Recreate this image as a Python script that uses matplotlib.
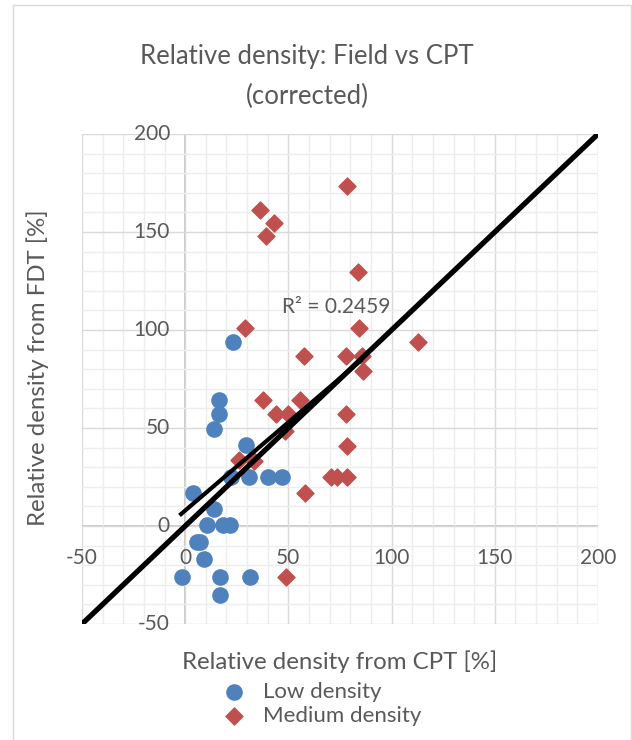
import numpy as np
import matplotlib
matplotlib.use("Agg")
import matplotlib.pyplot as plt
from matplotlib.lines import Line2D

plt.rcParams['font.family'] = ['Lato', 'DejaVu Sans']

# Low density points (CPT vs FDT)
low_x = [23, 16.5, 16.2, 14.1, 29.5, 22.2, 30.7, 40, 47, 3.6, 13.8,
         10.5, 18.3, 21.5, 5.7, 7.3, 9.2, -1.6, 17, 31.6, 17]
low_y = [94, 64.5, 57, 49.5, 41.5, 25, 25, 25, 25, 17, 8.5,
         0.5, 0.5, 0.5, -8, -8, -17, -26, -26, -26, -35]

# Medium density points
med_x = [78.6, 36.4, 42.9, 39.2, 83.5, 29.1, 84.1, 112.6, 57.8, 78, 85.8, 86.1, 37.7,
         55.8, 44.2, 49.7, 78, 48.5, 78.5, 26, 33.3, 70.4, 73.6, 78.5, 57.9, 48.9]
med_y = [173.5, 161, 154.5, 148, 129.5, 101, 101, 94, 86.5, 86.5, 86.5, 79, 64.5,
         64.5, 57, 57, 57, 48.5, 41, 33.5, 33, 25, 25, 25, 17, -26]

# 1:1 line and linear trendline
one_to_one = [-50, 200]
trend_slope = 0.90
trend_intercept = 7.9
trend_range = [-2, 85]
r2_label = "R² = 0.2459"

ticks = [-50, 0, 50, 100, 150, 200]
txt_col = '#595959'

fig = plt.figure(figsize=(6.32, 7.4), dpi=100)
ax = fig.add_axes([82/632, 1-624/740, (598-82)/632, (624-134)/740])

ax.set_xlim(-50, 200)
ax.set_ylim(-50, 200)
ax.set_xticks(ticks)
ax.set_yticks(ticks)
ax.set_xticks(np.arange(-50, 201, 10), minor=True)
ax.set_yticks(np.arange(-50, 201, 10), minor=True)
ax.grid(which='minor', color='#ededed', lw=1, zorder=0)
ax.grid(which='major', color='#d9d9d9', lw=1, zorder=0)
ax.tick_params(which='both', length=0, labelbottom=False, labelleft=False)
for s in ax.spines.values():
    s.set_visible(False)
ax.axhline(0, color='#bfbfbf', lw=1.2, zorder=1)
ax.axvline(0, color='#bfbfbf', lw=1.2, zorder=1)

# tick labels next to the axes crossing at 0
for t in ticks:
    ax.annotate(str(t), (0, t), xytext=(-11, 0), textcoords='offset points',
                ha='right', va='center', fontsize=15, color=txt_col)
    ax.annotate(str(t), (t, 0), xytext=(0, -16), textcoords='offset points',
                ha='center', va='top', fontsize=15, color=txt_col)

ax.scatter(low_x, low_y, s=120, marker='o', color='#4F81BD', zorder=3, label='Low density')
ax.scatter(med_x, med_y, s=75, marker='D', color='#C0504D', zorder=3, label='Medium density')

ax.plot(one_to_one, one_to_one, color='black', lw=3.8, zorder=4, solid_capstyle='butt')
tx = np.array(trend_range)
ax.plot(tx, trend_slope * tx + trend_intercept, color='black', lw=3.0, zorder=4)
ax.text(47, 111.5, r2_label, ha='left', va='center', fontsize=15, color=txt_col)

fig.text(0.486, 0.897, "Relative density: Field vs CPT\n(corrected)", ha='center', va='center',
         fontsize=18.5, color=txt_col, linespacing=1.75)
fig.text(340/632, 1-662/740, "Relative density from CPT [%]", ha='center', va='center',
         fontsize=17.3, color=txt_col)
fig.text(38/632, 1-368/740, "Relative density from FDT [%]", ha='center', va='center',
         rotation=90, fontsize=17.3, color=txt_col)

fig.legend(loc='center', bbox_to_anchor=(322/632, 1-704/740), frameon=False,
           fontsize=16, labelcolor=txt_col, handletextpad=0.8, labelspacing=0.2,
           handlelength=1.0)

# chart border
for xs, ys in [([13/632, 13/632], [0, 1-5/740]), ([13/632, 631/632], [1-5/740, 1-5/740]),
               ([631/632, 631/632], [1-5/740, 0])]:
    fig.add_artist(Line2D(xs, ys, color='#d9d9d9', lw=1, transform=fig.transFigure))

fig.savefig('out.png', dpi=100)
